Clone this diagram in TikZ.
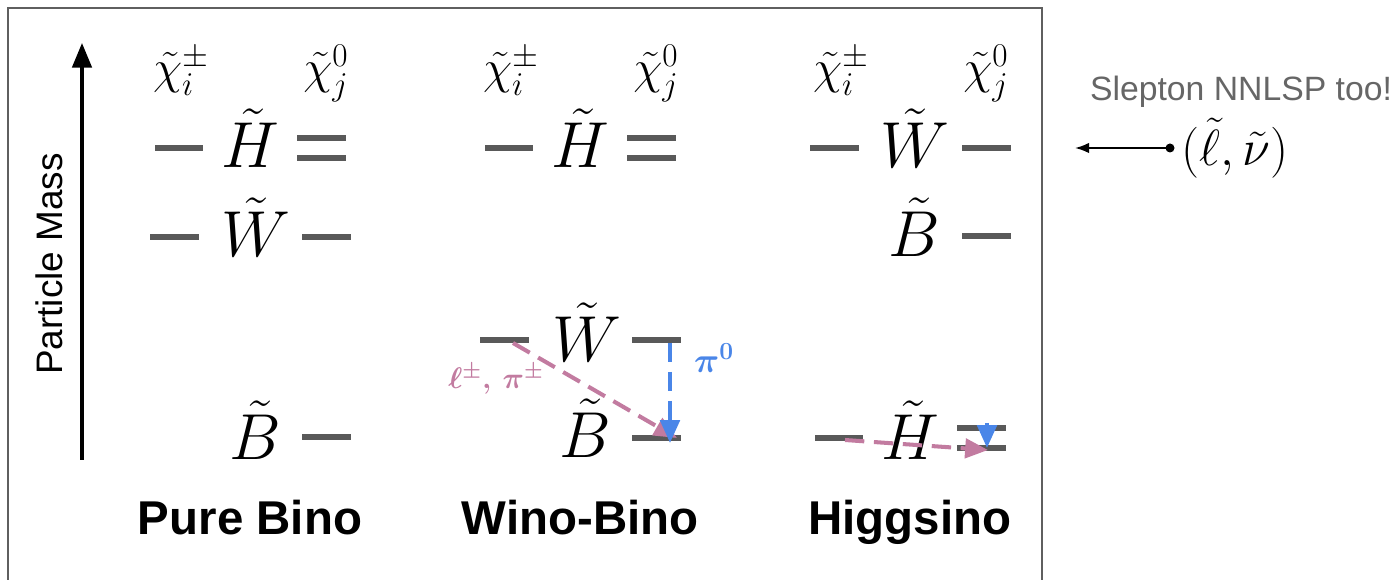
\RequirePackage{fix-cm}
\documentclass[tikz,border=0pt]{standalone}
\usepackage{fontspec}
\newfontfamily\arial{Liberation Sans}
\usetikzlibrary{arrows.meta}
\definecolor{lvlgray}{HTML}{595959}
\definecolor{framegray}{HTML}{5F5F5F}
\definecolor{txtgray}{HTML}{666666}
\definecolor{pinkc}{HTML}{C27BA0}
\definecolor{bluec}{HTML}{4A86E8}
\tikzset{
  lvl/.style={line width=3.4pt, lvlgray},
  bigm/.style={anchor=base, inner sep=0pt, font=\fontsize{37}{40}\selectfont},
  chil/.style={anchor=base, inner sep=0pt, font=\fontsize{27}{30}\selectfont},
  ttl/.style={anchor=base, inner sep=0pt, font=\arial\bfseries\fontsize{27}{30}\selectfont},
  decay/.style={line width=2.3pt, dash pattern=on 11pt off 5.5pt, -{Triangle[length=13pt,width=11pt]}},
}
\begin{document}
\begin{tikzpicture}[x=0.02cm, y=-0.02cm]
\useasboundingbox (0,0) rectangle (1400,580);
% frame
\draw[framegray, line width=1.2pt] (8,580) -- (8,8) -- (1042,8) -- (1042,580);
% axis
\coordinate (axb) at (82,460);
\coordinate (axt) at (82,43);
\draw[line width=2pt, -{Triangle[length=14pt,width=11pt]}] (axb) -- (axt);
\node[rotate=90, anchor=base, inner sep=0pt, font=\arial\fontsize{21}{24}\selectfont] (pm) at (62,264) {Particle Mass};

% column labels chi
\foreach \cx/\nm in {181/a,511/b,841/c}{
  \node[chil] (chp\nm) at (\cx,84) {$\tilde\chi_i^{\pm}$};
}
\foreach \cx/\nm in {326/a,656/b,986/c}{
  \node[chil] (chz\nm) at (\cx,84) {$\tilde\chi_j^{0}$};
}

% ---- Pure Bino
\node[bigm] (Ha) at (250,168) {$\tilde H$};
\draw[lvl] (155,148) -- (203,148);
\draw[lvl] (297,138) -- (346,138);
\draw[lvl] (297,158) -- (346,158);
\node[bigm] (Wa) at (256,257) {$\tilde W$};
\draw[lvl] (150,237) -- (199,237);
\draw[lvl] (302,237) -- (351,237);
\node[bigm] (Ba) at (255,460) {$\tilde B$};
\draw[lvl] (302,437) -- (351,437);
\node[ttl] (ta) at (250,535) {Pure Bino};

% ---- Wino-Bino
\node[bigm] (Hb) at (580,168) {$\tilde H$};
\draw[lvl] (485,148) -- (533,148);
\draw[lvl] (627,138) -- (676,138);
\draw[lvl] (627,158) -- (676,158);
\node[bigm] (Wb) at (587,362) {$\tilde W$};
\draw[lvl] (480,340) -- (529,340);
\draw[lvl] (632,340) -- (681,340);
\node[bigm] (Bb) at (585,458) {$\tilde B$};
\draw[lvl] (632,438) -- (681,438);
\coordinate (pb1) at (513,343);
\coordinate (pb2) at (677,438);
\coordinate (bb1) at (670,343);
\coordinate (bb2) at (670,443);
\draw[decay, pinkc] (pb1) -- (pb2);
\draw[decay, bluec] (bb1) -- (bb2);
\node[pinkc, inner sep=0pt, font=\fontsize{17}{19}\selectfont\bfseries\boldmath] (lpb) at (496,379) {$\ell^{\pm}$, $\pi^{\pm}$};
\node[bluec, inner sep=0pt, font=\fontsize{20}{22}\selectfont\bfseries\boldmath] (pzb) at (714,358) {$\pi^{0}$};
\node[ttl] (tb) at (580,535) {Wino-Bino};

% ---- Higgsino
\node[bigm] (Wc) at (915,168) {$\tilde W$};
\draw[lvl] (810,148) -- (859,148);
\draw[lvl] (962,148) -- (1011,148);
\node[bigm] (Bc) at (914,257) {$\tilde B$};
\draw[lvl] (962,236) -- (1011,236);
\node[bigm] (Hc) at (910,460) {$\tilde H$};
\draw[lvl] (815,438) -- (863,438);
\draw[lvl] (957,428) -- (1006,428);
\draw[lvl] (957,448) -- (1006,448);
\coordinate (pc1) at (845,440);
\coordinate (pc2) at (988,450);
\coordinate (bc1) at (987,423);
\coordinate (bc2) at (987,448);
\draw[decay, pinkc] (pc1) -- (pc2);
\draw[bluec, line width=2.3pt, -{Triangle[length=13pt,width=11pt]}] (bc1) -- (bc2);
\node[ttl] (tc) at (910,535) {Higgsino};

% ---- Slepton
\node[txtgray, inner sep=0pt, font=\arial\fontsize{19.2}{22}\selectfont] (sl) at (1241,92) {Slepton NNLSP too!};
\coordinate (sd) at (1170,148);
\coordinate (st) at (1075,148);
\fill (sd) circle (4.5);
\draw[line width=1.1pt, -{Latex[length=8pt,width=6pt]}] (sd) -- (st);
\node[inner sep=0pt, anchor=west, font=\fontsize{29}{32}\selectfont] (slm) at (1181,148) {$(\tilde\ell,\tilde\nu)$};
\end{tikzpicture}
\end{document}
